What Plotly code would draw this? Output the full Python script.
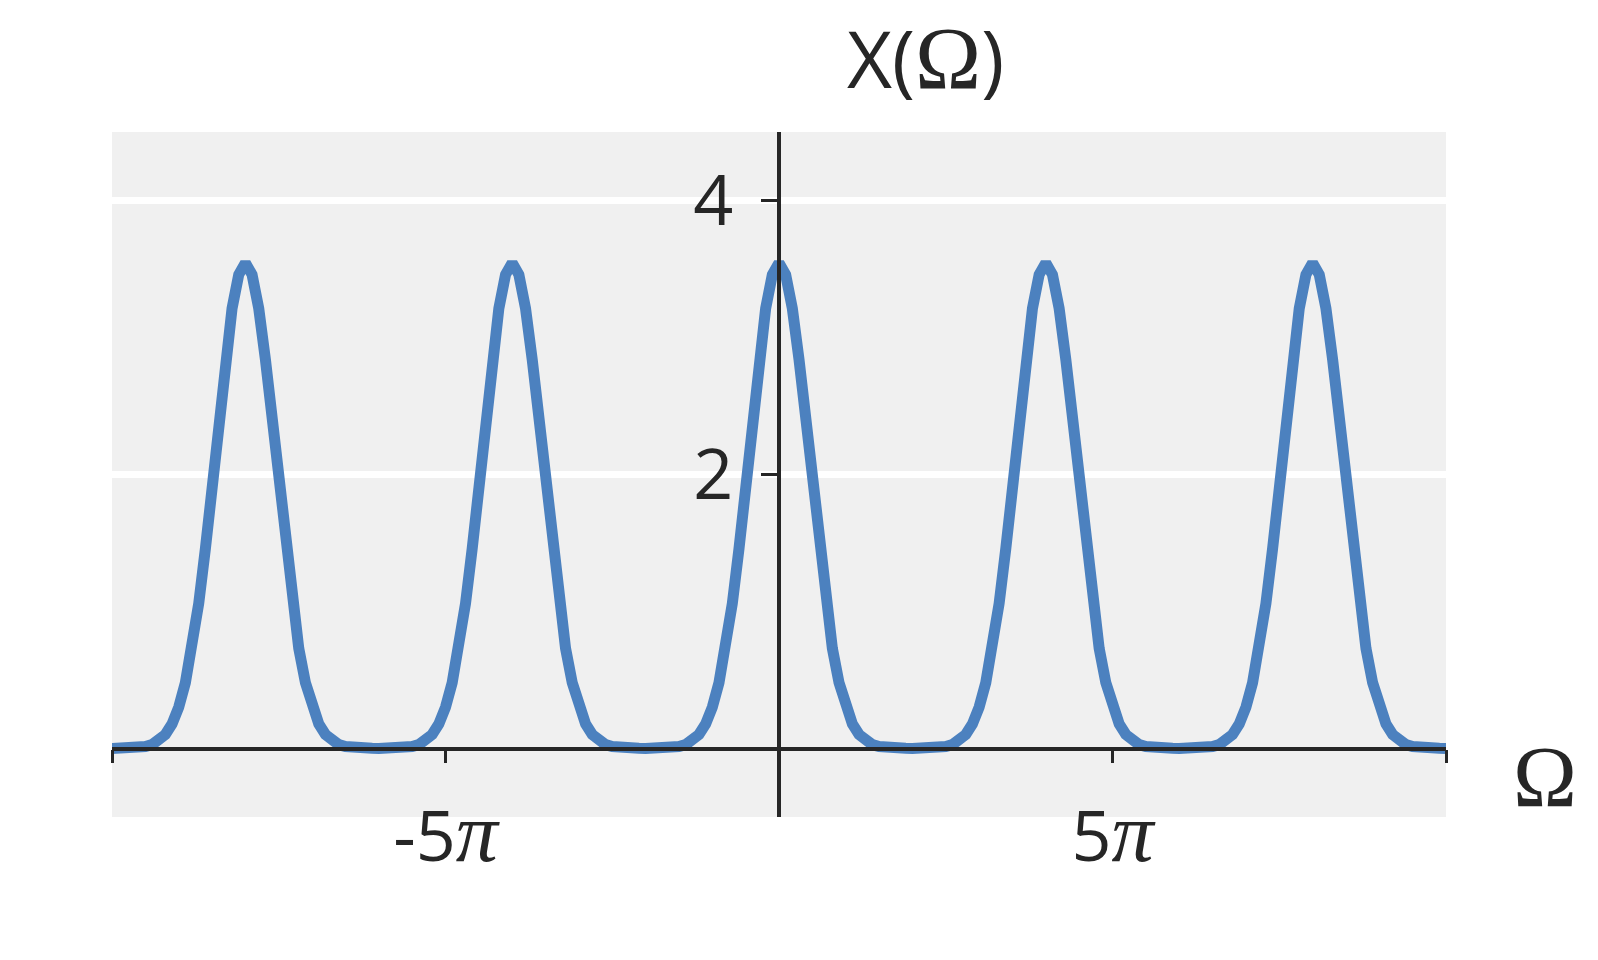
import numpy as np
import plotly.graph_objects as go

# Sampling grid: -10π .. 10π in steps of 0.1π (201 samples)
omega = np.linspace(-10 * np.pi, 10 * np.pi, 201)

# X(Ω) values (periodic peaks at 0, ±4π, ±8π)
x_of_omega = [
    0.000, 0.001, 0.001, 0.003, 0.006, 0.014, 0.028, 0.055, 0.102, 0.179,
    0.301, 0.480, 0.731, 1.058, 1.458, 1.913, 2.389, 2.839, 3.212, 3.459,
    3.545, 3.459, 3.212, 2.839, 2.389, 1.913, 1.458, 1.058, 0.731, 0.480,
    0.301, 0.179, 0.102, 0.055, 0.028, 0.014, 0.006, 0.003, 0.001, 0.001,
    0.000, 0.001, 0.001, 0.003, 0.006, 0.014, 0.028, 0.055, 0.102, 0.179,
    0.301, 0.480, 0.731, 1.058, 1.458, 1.913, 2.389, 2.839, 3.212, 3.459,
    3.545, 3.459, 3.212, 2.839, 2.389, 1.913, 1.458, 1.058, 0.731, 0.480,
    0.301, 0.179, 0.102, 0.055, 0.028, 0.014, 0.006, 0.003, 0.001, 0.001,
    0.000, 0.001, 0.001, 0.003, 0.006, 0.014, 0.028, 0.055, 0.102, 0.179,
    0.301, 0.480, 0.731, 1.058, 1.458, 1.913, 2.389, 2.839, 3.212, 3.459,
    3.545, 3.459, 3.212, 2.839, 2.389, 1.913, 1.458, 1.058, 0.731, 0.480,
    0.301, 0.179, 0.102, 0.055, 0.028, 0.014, 0.006, 0.003, 0.001, 0.001,
    0.000, 0.001, 0.001, 0.003, 0.006, 0.014, 0.028, 0.055, 0.102, 0.179,
    0.301, 0.480, 0.731, 1.058, 1.458, 1.913, 2.389, 2.839, 3.212, 3.459,
    3.545, 3.459, 3.212, 2.839, 2.389, 1.913, 1.458, 1.058, 0.731, 0.480,
    0.301, 0.179, 0.102, 0.055, 0.028, 0.014, 0.006, 0.003, 0.001, 0.001,
    0.000, 0.001, 0.001, 0.003, 0.006, 0.014, 0.028, 0.055, 0.102, 0.179,
    0.301, 0.480, 0.731, 1.058, 1.458, 1.913, 2.389, 2.839, 3.212, 3.459,
    3.545, 3.459, 3.212, 2.839, 2.389, 1.913, 1.458, 1.058, 0.731, 0.480,
    0.301, 0.179, 0.102, 0.055, 0.028, 0.014, 0.006, 0.003, 0.001, 0.001,
    0.000,
]

PI_SPAN = "<span style='font-family:Liberation Serif;font-size:84px'><i>π</i></span>"
x_tickvals = [-10 * np.pi, -5 * np.pi, 0, 5 * np.pi, 10 * np.pi]
x_ticktext = ["", "-5" + PI_SPAN, "", "5" + PI_SPAN, ""]
y_tickvals = [2, 4]
y_ticktext = ["2", "4"]

TXT = "#262626"
SANS = "Open Sans"
SERIF = "Liberation Serif"

# page body has an 8px default margin; size the figure to fill the window
W, H = 1590, 952
L, R, T, B = 104, 152, 124, 143
PW = W - L - R

fig = go.Figure()
fig.add_trace(go.Scatter(
    x=omega, y=x_of_omega, mode="lines",
    line=dict(color="#4C81BF", width=11),
    hoverinfo="skip", showlegend=False,
))

fig.update_layout(
    width=W, height=H,
    margin=dict(l=L, r=R, t=T, b=B),
    paper_bgcolor="white",
    plot_bgcolor="#f0f0f0",
    font=dict(family=SANS, color=TXT, size=70),
    xaxis=dict(
        range=[-10 * np.pi, 10 * np.pi],
        showgrid=False, zeroline=False,
        showline=True, linecolor=TXT, linewidth=3.5,
        ticks="outside", ticklen=13, tickwidth=3, tickcolor=TXT,
        tickvals=x_tickvals, ticktext=x_ticktext,
        tickfont=dict(family=SANS, size=70, color=TXT),
        anchor="free", position=0.1,
        ticklabelstandoff=14,
    ),
    yaxis=dict(
        range=[-0.5, 4.5],
        showgrid=True, gridcolor="white", gridwidth=7,
        zeroline=False,
        showline=True, linecolor=TXT, linewidth=3.5,
        ticks="outside", ticklen=16, tickwidth=3, tickcolor=TXT,
        tickvals=y_tickvals, ticktext=y_ticktext,
        tickfont=dict(family=SANS, size=70, color=TXT),
        anchor="free", position=0.5,
        ticklabelstandoff=14,
    ),
    annotations=[
        dict(
            text="X(<span style='font-family:Liberation Serif;font-size:89px'>Ω</span>)",
            xref="paper", yref="paper", x=(845 - 8 - L) / PW, y=1,
            xanchor="left", yanchor="bottom", yshift=19,
            showarrow=False, font=dict(family=SANS, size=78, color=TXT),
        ),
        dict(
            text="Ω",
            xref="paper", yref="y", x=1, y=0,
            xanchor="left", yanchor="middle", xshift=65, yshift=-28,
            showarrow=False, font=dict(family=SERIF, size=86, color=TXT),
        ),
    ],
)

fig.write_html("out.html")
